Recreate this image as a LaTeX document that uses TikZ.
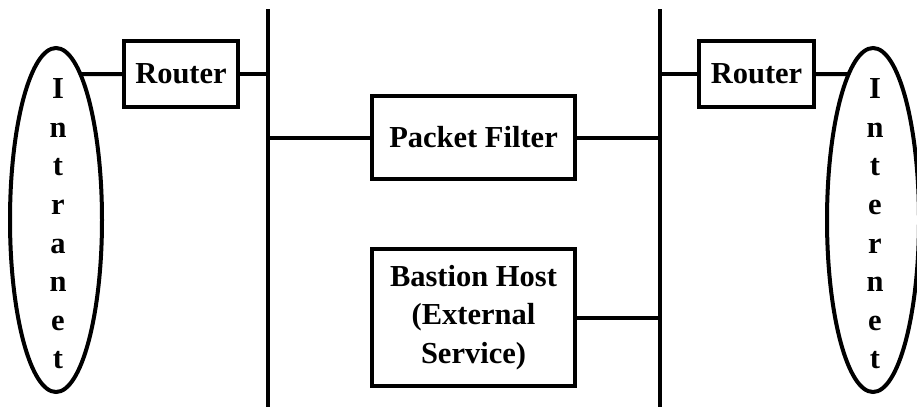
\documentclass[tikz,border=0pt]{standalone}
\usepackage{fontspec}
\setmainfont{Liberation Serif}
\usetikzlibrary{shapes.geometric,intersections}
\newcommand\netlbl{\bfseries\fontsize{30.5}{38.6}\selectfont}
\begin{document}
\begin{tikzpicture}[x=1pt,y=-1pt,
  lw/.style={line width=4pt},
  box/.style={draw,lw,rectangle,inner sep=0pt,align=center,font=\netlbl},
  net/.style={draw,lw,ellipse,minimum width=92pt,minimum height=344pt,inner sep=0pt},
  netlabel/.style={inner sep=0pt,align=center,font=\netlbl},
  wire/.style={lw}]
\useasboundingbox (0,0) rectangle (917,407);
\coordinate (b1t) at (268,9); \coordinate (b1b) at (268,407);
\coordinate (b2t) at (660,9); \coordinate (b2b) at (660,407);
\draw[wire] (b1t) -- (b1b);
\draw[wire] (b2t) -- (b2b);
\node[net,name path=intra] (intra) at (56,220) {};
\node[netlabel] (intratext) at (58,224) {I\\n\\t\\r\\a\\n\\e\\t};
\node[net,name path=inter] (inter) at (873,220) {};
\node[netlabel] (intertext) at (875,224) {I\\n\\t\\e\\r\\n\\e\\t};
\node[box,minimum width=114pt,minimum height=66pt] (r1) at (181,74) {Router};
\node[box,minimum width=115pt,minimum height=66pt] (r2) at (756.5,74) {Router};
\node[box,minimum width=203pt,minimum height=83pt] (pf) at (473.5,137.5) {Packet Filter};
\node[box,minimum width=203pt,minimum height=137pt] (bh) at (473.5,317.5) {Bastion Host\\(External\\Service)};
\path[name path=l1] (r1.west) -- (intra.center |- r1.west);
\draw[wire, name intersections={of=l1 and intra}] (r1.west) -- (intersection-1);
\path[name path=l2] (r2.east) -- (inter.center |- r2.east);
\draw[wire, name intersections={of=l2 and inter}] (r2.east) -- (intersection-1);
\draw[wire] (r1.east) -- (r1.east -| b1t);
\draw[wire] (b1t |- pf.west) -- (pf.west);
\draw[wire] (pf.east) -- (pf.east -| b2t);
\draw[wire] (bh.east) -- (bh.east -| b2t);
\draw[wire] (b2t |- r2.west) -- (r2.west);
\end{tikzpicture}
\end{document}
